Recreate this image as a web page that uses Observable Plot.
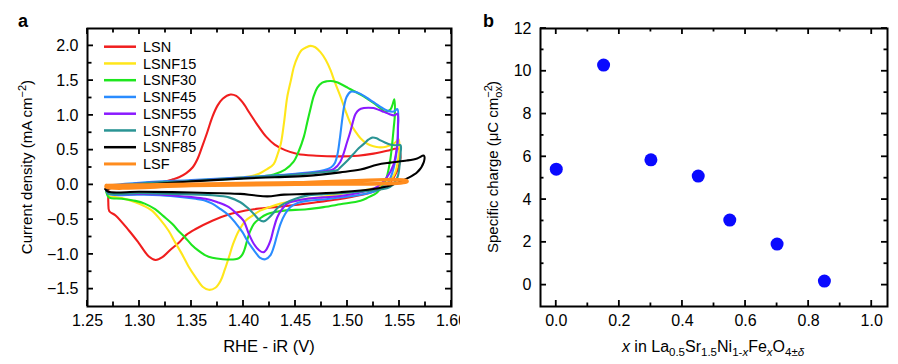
<!DOCTYPE html>
<html><head><meta charset="utf-8">
<script src="https://cdn.jsdelivr.net/npm/d3@7"></script>
<script src="https://cdn.jsdelivr.net/npm/@observablehq/plot@0.6"></script>
<style>
body{margin:0;background:#fff;}
#wrap{display:flex;width:898px;height:364px;overflow:hidden;}
svg{font-family:"Liberation Sans",Arial,Helvetica,sans-serif;}
</style></head><body><div id="wrap"></div>
<script>
// ---------- Panel a: cyclic voltammograms [potential (V vs RHE - iR), current density (mA cm^-2)] ----------
const seriesNames = ["LSN","LSNF15","LSNF30","LSNF45","LSNF55","LSNF70","LSNF85","LSF"];
const seriesColors = ["#f01e1e","#ffe61a","#1ee61e","#2a8cff","#8a1aff","#2a9494","#000000","#ff8c1e"];

const LSN = [[1.270,-0.03],[1.290,0.00],[1.310,0.02],[1.322,0.04],[1.332,0.08],[1.338,0.11],[1.345,0.17],[1.351,0.25],[1.356,0.38],[1.360,0.54],[1.365,0.75],[1.370,0.975],[1.375,1.14],[1.380,1.24],[1.3875,1.30],[1.393,1.28],[1.399,1.19],[1.406,1.03],[1.414,0.85],[1.422,0.69],[1.430,0.58],[1.440,0.50],[1.452,0.445],[1.470,0.42],[1.490,0.41],[1.510,0.42],[1.525,0.45],[1.538,0.49],[1.549,0.52],
  [1.551,0.40],[1.549,0.25],[1.545,0.12],[1.540,0.02],[1.532,-0.06],[1.520,-0.12],[1.505,-0.17],[1.490,-0.21],[1.470,-0.25],[1.450,-0.29],[1.430,-0.32],[1.410,-0.35],[1.402,-0.37],[1.385,-0.43],[1.370,-0.515],[1.354,-0.635],[1.345,-0.72],[1.338,-0.83],[1.330,-0.93],[1.322,-1.04],[1.3155,-1.08],[1.309,-1.03],[1.299,-0.83],[1.290,-0.66],[1.277,-0.44],[1.271,-0.38],[1.270,-0.25],[1.270,-0.08],[1.270,-0.03]];

const LSNF15 = [[1.268,-0.02],[1.300,0.02],[1.350,0.06],[1.390,0.10],[1.405,0.12],[1.415,0.16],[1.422,0.22],[1.429,0.30],[1.433,0.45],[1.436,0.60],[1.439,0.90],[1.442,1.26],[1.4455,1.50],[1.4485,1.70],[1.452,1.84],[1.456,1.94],[1.4605,1.98],[1.4645,2.00],[1.469,1.98],[1.474,1.91],[1.479,1.80],[1.4837,1.65],[1.488,1.47],[1.493,1.28],[1.498,1.07],[1.503,0.88],[1.508,0.76],[1.5125,0.67],[1.518,0.60],[1.522,0.57],[1.528,0.545],[1.5317,0.54],[1.537,0.55],[1.541,0.57],[1.546,0.61],[1.549,0.66],
  [1.550,0.55],[1.549,0.40],[1.546,0.18],[1.542,0.08],[1.538,0.01],[1.530,-0.03],[1.522,-0.06],[1.508,-0.10],[1.493,-0.13],[1.477,-0.17],[1.461,-0.20],[1.448,-0.235],[1.4356,-0.27],[1.425,-0.32],[1.416,-0.37],[1.408,-0.45],[1.402,-0.515],[1.3955,-0.66],[1.390,-0.85],[1.386,-1.04],[1.382,-1.22],[1.378,-1.38],[1.373,-1.48],[1.3666,-1.51],[1.361,-1.47],[1.354,-1.33],[1.347,-1.17],[1.341,-1.00],[1.334,-0.82],[1.328,-0.66],[1.320,-0.50],[1.312,-0.37],[1.304,-0.30],[1.296,-0.25],[1.283,-0.19],[1.270,-0.15],[1.268,-0.08],[1.268,-0.02]];

const LSNF30 = [[1.268,-0.03],[1.300,0.02],[1.350,0.06],[1.400,0.10],[1.429,0.15],[1.440,0.22],[1.448,0.33],[1.453,0.48],[1.458,0.69],[1.461,0.88],[1.464,1.07],[1.4676,1.28],[1.471,1.40],[1.4757,1.47],[1.480,1.49],[1.484,1.495],[1.489,1.48],[1.493,1.455],[1.500,1.40],[1.506,1.35],[1.5125,1.30],[1.519,1.24],[1.525,1.18],[1.531,1.11],[1.5365,1.05],[1.541,1.08],[1.543,1.14],[1.545,1.23],
  [1.5455,1.00],[1.5445,0.83],[1.543,0.60],[1.541,0.35],[1.5365,0.06],[1.5285,-0.11],[1.520,-0.18],[1.5125,-0.23],[1.493,-0.28],[1.477,-0.32],[1.461,-0.35],[1.439,-0.37],[1.430,-0.39],[1.423,-0.42],[1.416,-0.48],[1.410,-0.56],[1.406,-0.68],[1.4035,-0.80],[1.401,-0.93],[1.399,-1.00],[1.396,-1.05],[1.392,-1.07],[1.380,-1.07],[1.370,-1.05],[1.363,-1.01],[1.357,-0.95],[1.350,-0.86],[1.344,-0.76],[1.338,-0.67],[1.3314,-0.56],[1.323,-0.45],[1.315,-0.35],[1.305,-0.27],[1.296,-0.23],[1.283,-0.20],[1.2705,-0.18],[1.268,-0.10],[1.268,-0.03]];

const LSNF45 = [[1.268,-0.01],[1.300,0.03],[1.350,0.07],[1.400,0.11],[1.450,0.16],[1.477,0.21],[1.484,0.25],[1.488,0.32],[1.4905,0.45],[1.4925,0.65],[1.495,0.95],[1.497,1.15],[1.499,1.26],[1.503,1.34],[1.507,1.34],[1.5125,1.31],[1.519,1.25],[1.525,1.19],[1.531,1.13],[1.538,1.07],[1.5445,1.055],[1.548,1.09],
  [1.5485,0.85],[1.548,0.59],[1.5445,0.25],[1.541,0.09],[1.538,0.01],[1.532,-0.05],[1.525,-0.10],[1.510,-0.15],[1.493,-0.18],[1.477,-0.21],[1.461,-0.23],[1.452,-0.26],[1.445,-0.32],[1.440,-0.42],[1.4356,-0.56],[1.432,-0.74],[1.429,-0.90],[1.426,-1.01],[1.421,-1.07],[1.416,-1.05],[1.413,-1.00],[1.408,-0.90],[1.4035,-0.80],[1.399,-0.68],[1.393,-0.56],[1.386,-0.44],[1.378,-0.35],[1.370,-0.27],[1.362,-0.22],[1.354,-0.20],[1.330,-0.16],[1.300,-0.14],[1.270,-0.13],[1.268,-0.07],[1.268,-0.01]];

const LSNF55 = [[1.268,-0.02],[1.300,0.02],[1.350,0.06],[1.400,0.10],[1.450,0.15],[1.480,0.20],[1.487,0.23],[1.493,0.33],[1.4997,0.62],[1.503,0.78],[1.506,0.95],[1.5077,1.02],[1.511,1.08],[1.5157,1.105],[1.520,1.11],[1.525,1.105],[1.530,1.08],[1.535,1.05],[1.540,1.02],[1.5445,1.00],[1.548,1.02],
  [1.5485,0.80],[1.548,0.59],[1.546,0.40],[1.5445,0.30],[1.538,0.11],[1.5285,-0.03],[1.515,-0.10],[1.493,-0.16],[1.477,-0.18],[1.461,-0.20],[1.450,-0.23],[1.442,-0.27],[1.437,-0.35],[1.4324,-0.47],[1.429,-0.63],[1.426,-0.80],[1.422,-0.93],[1.419,-0.97],[1.415,-0.94],[1.410,-0.85],[1.405,-0.70],[1.400,-0.515],[1.393,-0.41],[1.386,-0.32],[1.375,-0.25],[1.3635,-0.20],[1.330,-0.15],[1.300,-0.13],[1.270,-0.12],[1.268,-0.07],[1.268,-0.02]];

const LSNF70 = [[1.268,-0.02],[1.300,0.02],[1.350,0.06],[1.400,0.10],[1.450,0.15],[1.480,0.19],[1.490,0.21],[1.493,0.25],[1.500,0.35],[1.506,0.45],[1.511,0.53],[1.5157,0.59],[1.520,0.65],[1.5237,0.68],[1.528,0.67],[1.5317,0.64],[1.536,0.61],[1.541,0.58],[1.546,0.57],[1.551,0.57],
  [1.551,0.45],[1.5505,0.35],[1.548,0.11],[1.541,-0.03],[1.530,-0.07],[1.510,-0.10],[1.493,-0.12],[1.477,-0.135],[1.461,-0.155],[1.450,-0.20],[1.439,-0.27],[1.433,-0.33],[1.429,-0.40],[1.424,-0.48],[1.4195,-0.525],[1.415,-0.50],[1.410,-0.42],[1.404,-0.33],[1.397,-0.25],[1.386,-0.18],[1.370,-0.15],[1.330,-0.13],[1.300,-0.12],[1.270,-0.12],[1.268,-0.07],[1.268,-0.02]];

const LSNF85 = [[1.267,-0.06],[1.280,-0.03],[1.300,0.00],[1.350,0.05],[1.397,0.09],[1.430,0.11],[1.461,0.13],[1.493,0.18],[1.5125,0.22],[1.5285,0.29],[1.541,0.32],[1.557,0.35],[1.567,0.38],[1.5734,0.42],
  [1.5734,0.33],[1.567,0.18],[1.557,0.09],[1.541,-0.01],[1.525,-0.06],[1.493,-0.105],[1.461,-0.13],[1.439,-0.14],[1.423,-0.165],[1.410,-0.15],[1.397,-0.13],[1.350,-0.11],[1.300,-0.10],[1.270,-0.10],[1.267,-0.06]];

const LSF = [[1.268,-0.01],[1.350,0.01],[1.450,0.03],[1.557,0.06],
  [1.557,0.045],[1.450,0.01],[1.350,-0.01],[1.268,-0.03],[1.268,-0.01]];

const cvCurves = [LSN, LSNF15, LSNF30, LSNF45, LSNF55, LSNF70, LSNF85, LSF];

const aXTicks = [1.25,1.30,1.35,1.40,1.45,1.50,1.55,1.60];
const aXMinor = [1.275,1.325,1.375,1.425,1.475,1.525,1.575];
const aYTicks = [-1.5,-1.0,-0.5,0.0,0.5,1.0,1.5,2.0];
const aYMinor = [-1.25,-0.75,-0.25,0.25,0.75,1.25,1.75];

// ---------- Panel b: specific charge vs Fe fraction ----------
const xFe = [0.00,0.15,0.30,0.45,0.55,0.70,0.85];
const specificCharge = [5.42,10.29,5.86,5.10,3.04,1.92,0.19];
const bXTicks = [0.0,0.2,0.4,0.6,0.8,1.0];
const bXMinor = [0.1,0.3,0.5,0.7,0.9];
const bYTicks = [0,2,4,6,8,10,12];
const bYMinor = [1,3,5,7,9,11];

// ---------- helpers ----------
const FONT = '"Liberation Sans", Arial, Helvetica, sans-serif';
function labelAxes(xMaj, yMaj, xFmt, yFmt) {
  return [
    Plot.axisX(xMaj, {label: null, anchor: "bottom", tickSize: 0, tickPadding: 8, tickFormat: xFmt, fontSize: 16}),
    Plot.axisY(yMaj, {label: null, anchor: "left", tickSize: 0, tickPadding: 9, tickFormat: yFmt, fontSize: 16}),
    Plot.frame({stroke: "#000", strokeWidth: 2})
  ];
}
// inward ticks on all four frame sides, positioned with the plot's own scales
function addInwardTicks(svg, dims, xMaj, xMin, yMaj, yMin, majLen, minLen) {
  const sx = svg.scale("x"), sy = svg.scale("y");
  const top = dims.marginTop, bottom = dims.height - dims.marginBottom;
  const left = dims.marginLeft, right = dims.width - dims.marginRight;
  const g = d3.select(svg).append("g").attr("stroke", "#000").attr("stroke-width", 1.8).attr("fill", "none");
  const xt = [...xMaj.map(v => [v, majLen]), ...xMin.map(v => [v, minLen])];
  const yt = [...yMaj.map(v => [v, majLen]), ...yMin.map(v => [v, minLen])];
  xt.forEach(([v, l]) => {
    const x = sx.apply(v);
    g.append("line").attr("x1", x).attr("x2", x).attr("y1", bottom).attr("y2", bottom - l);
    g.append("line").attr("x1", x).attr("x2", x).attr("y1", top).attr("y2", top + l);
  });
  yt.forEach(([v, l]) => {
    const y = sy.apply(v);
    g.append("line").attr("y1", y).attr("y2", y).attr("x1", left).attr("x2", left + l);
    g.append("line").attr("y1", y).attr("y2", y).attr("x1", right).attr("x2", right - l);
  });
}

const wrap = document.getElementById("wrap");

// ---------- Panel a ----------
const dimsA = {width: 460, height: 364, marginLeft: 87, marginRight: 9, marginTop: 28, marginBottom: 58};
const lineMarks = cvCurves.map((c, i) => Plot.line(c, {
  x: d => d[0], y: d => d[1], stroke: seriesColors[i],
  strokeWidth: seriesNames[i] === "LSF" ? 3.5 : 2.1, curve: "catmull-rom", strokeLinejoin: "round"
}));

const plotA = Plot.plot({
  ...dimsA,
  style: {fontFamily: FONT, fontSize: "16px", background: "white", color: "black", overflow: "visible"},
  x: {domain: [1.25, 1.60]},
  y: {domain: [-1.75, 2.25]},
  marks: [...lineMarks, ...labelAxes(aXTicks, aYTicks, d3.format(".2f"), d3.format(".1f"))]
});
wrap.appendChild(plotA);
addInwardTicks(plotA, dimsA, aXTicks, aXMinor, aYTicks, aYMinor, 6, 4.5);

// ---------- Panel b ----------
const dimsB = {width: 438, height: 364, marginLeft: 80, marginRight: 11, marginTop: 28, marginBottom: 58};
const plotB = Plot.plot({
  ...dimsB,
  style: {fontFamily: FONT, fontSize: "16px", background: "white", color: "black", overflow: "visible"},
  x: {domain: [-0.05, 1.05]},
  y: {domain: [-1, 12]},
  marks: [
    Plot.dot(xFe, {x: d => d, y: (d, i) => specificCharge[i], r: 6.5, fill: "#0a0aff", stroke: "none"}),
    ...labelAxes(bXTicks, bYTicks, d3.format(".1f"), d3.format("d"))
  ]
});
wrap.appendChild(plotB);
addInwardTicks(plotB, dimsB, bXTicks, bXMinor, bYTicks, bYMinor, 6, 3.5);

d3.selectAll('[aria-label="x-axis tick label"], [aria-label="y-axis tick label"]').attr("font-size", 16).style("font-size", "16px");

// ---------- annotations (text) ----------
const sa = d3.select(plotA), sb = d3.select(plotB);

sa.append("text").attr("x", 18).attr("y", 27).attr("text-anchor", "start").attr("font-size", 18).attr("font-weight", "bold").attr("fill", "black").text("a");
sb.append("text").attr("x", 23).attr("y", 27).attr("text-anchor", "start").attr("font-size", 18).attr("font-weight", "bold").attr("fill", "black").text("b");

const leg = sa.append("g");
seriesNames.forEach((name, i) => {
  const y = 46.7 + i * 16.75;
  leg.append("line").attr("x1", 104).attr("x2", 136).attr("y1", y).attr("y2", y)
    .attr("stroke", seriesColors[i]).attr("stroke-width", name === "LSF" ? 3 : 2.5);
  leg.append("text").attr("x", 143).attr("y", y).attr("dy", "0.36em").attr("text-anchor", "start")
    .attr("font-size", 14.5).attr("fill", "black").text(name);
});

sa.append("text").attr("x", 269).attr("y", 352).attr("text-anchor", "middle").attr("font-size", 16.5).attr("fill", "black").text("RHE - iR (V)");
{
  const t = sa.append("text").attr("transform", "translate(32,167) rotate(-90)").attr("text-anchor", "middle").attr("font-size", 15).attr("fill", "black");
  t.append("tspan").text("Current density (mA cm");
  t.append("tspan").attr("font-size", 11).attr("dy", -6).text("\u22122");
  t.append("tspan").attr("dy", 6).text(")");
}
{
  const t = sb.append("text").attr("transform", "translate(38,167) rotate(-90)").attr("text-anchor", "middle").attr("font-size", 15).attr("fill", "black");
  t.append("tspan").text("Specific charge (\u03bcC cm");
  const sup = t.append("tspan").attr("font-size", 11).attr("dy", -6).text("\u22122");
  let w = 12.5;
  try { const m = sup.node().getComputedTextLength(); if (m > 0) w = m; } catch (e) {}
  t.append("tspan").attr("font-size", 11).attr("dx", -w).attr("dy", 10).text("ox");
  t.append("tspan").attr("dy", -4).text(")");
}
{
  const t = sb.append("text").attr("x", 253).attr("y", 352).attr("text-anchor", "middle").attr("font-size", 16).attr("fill", "black");
  const parts = [
    ["x", true, false], [" in La", false, false], ["0.5", false, true], ["Sr", false, false], ["1.5", false, true],
    ["Ni", false, false], ["1-", false, true], ["x", true, true], ["Fe", false, false], ["x", true, true],
    ["O", false, false], ["4\u00b1", false, true], ["\u03b4", true, true]
  ];
  let prevSub = false;
  parts.forEach(([s, it, isSub]) => {
    const sp = t.append("tspan").text(s);
    if (it) sp.attr("font-style", "italic");
    if (isSub) sp.attr("font-size", 11.5);
    if (isSub && !prevSub) sp.attr("dy", 4);
    if (!isSub && prevSub) sp.attr("dy", -4);
    prevSub = isSub;
  });
}
</script></body></html>
